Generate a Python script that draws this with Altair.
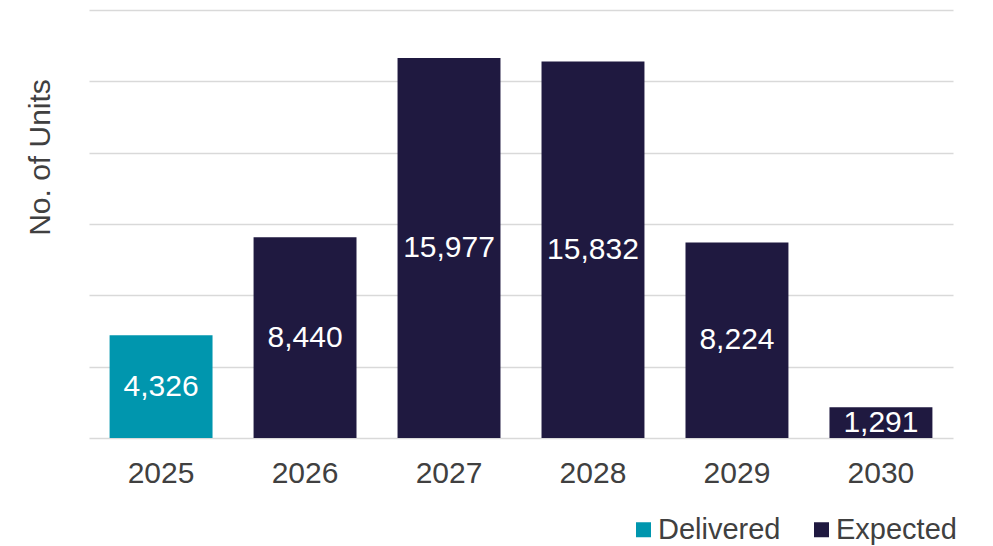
import altair as alt
import pandas as pd

years = ["2025", "2026", "2027", "2028", "2029", "2030"]
units = [4326, 8440, 15977, 15832, 8224, 1291]
status = ["Delivered", "Expected", "Expected", "Expected", "Expected", "Expected"]
grid_values = [0, 3000, 6000, 9000, 12000, 15000, 18000]

df = pd.DataFrame({"year": years, "units": units, "status": status})

FONT = "Liberation Sans"
TEXT = "#404040"
FS = 30

base = alt.Chart(df).encode(
    x=alt.X("year:N", title=None, sort=years,
            scale=alt.Scale(paddingInner=0.285, paddingOuter=0.143),
            axis=alt.Axis(labelAngle=0, labelFontSize=FS, labelFont=FONT, labelColor=TEXT,
                          ticks=False, tickSize=0, domain=False, labelPadding=20, grid=False)),
)

bars = base.mark_bar().encode(
    y=alt.Y("units:Q", title="No. of Units",
            scale=alt.Scale(domain=[0, 18000], nice=False),
            axis=alt.Axis(values=grid_values, labels=False, ticks=False, domain=False,
                          gridColor="#D9D9D9", gridWidth=1.3,
                          titleFontSize=FS, titleFont=FONT, titleColor=TEXT, titleFontWeight="normal",
                          titleX=-49, titleY=147, titleBaseline="middle", titleAngle=-90)),
    color=alt.Color("status:N", title=None,
                    scale=alt.Scale(domain=["Delivered", "Expected"], range=["#0096AE", "#1F1940"]),
                    legend=alt.Legend(orient="none", legendX=540, legendY=505, direction="horizontal",
                                      symbolType="square", symbolSize=225, symbolStrokeWidth=0,
                                      labelFontSize=29, labelFont=FONT, labelColor=TEXT,
                                      labelOffset=0, columnPadding=26, padding=0)),
)

labels = base.mark_text(color="white", fontSize=FS, font=FONT, baseline="middle").transform_calculate(
    mid="datum.units / 2"
).encode(
    y=alt.Y("mid:Q"),
    text=alt.Text("units:Q", format=",")
)

chart = alt.layer(bars, labels).properties(
    width=864, height=428,
    autosize=alt.AutoSizeParams(type="none"),
    padding={"left": 89, "top": 10, "right": 40, "bottom": 108},
).configure(background="white").configure_view(stroke=None)

chart.save("out.html", embed_options={"renderer": "svg", "actions": False})
